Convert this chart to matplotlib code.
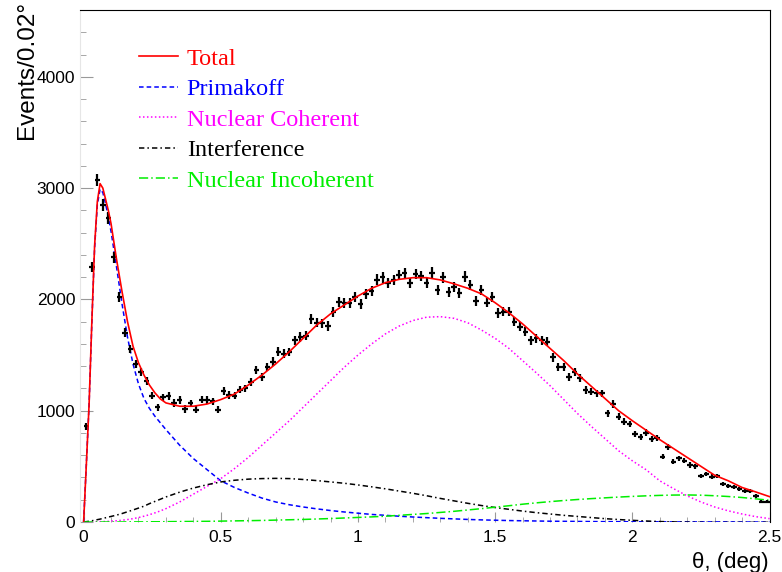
import numpy as np
import matplotlib
matplotlib.use("Agg")
import matplotlib.pyplot as plt
from matplotlib.ticker import MultipleLocator, FuncFormatter

# measured histogram, 0.02 deg bins from 0 to 2.5
bin_edges = np.linspace(0, 2.5, 126)
counts = [860, 2290, 3070, 2850, 2730, 2380, 2020, 1700, 1555, 1420,
          1345, 1270, 1135, 1030, 1120, 1130, 1070, 1095, 1015, 1065,
          1010, 1100, 1095, 1085, 1010, 1175, 1140, 1135, 1190, 1200,
          1255, 1365, 1305, 1395, 1440, 1530, 1512, 1528, 1635, 1662,
          1672, 1822, 1792, 1785, 1760, 1887, 1980, 1965, 1965, 2018,
          1958, 2048, 2075, 2177, 2198, 2145, 2174, 2219, 2234, 2145,
          2228, 2210, 2145, 2240, 2085, 2198, 2070, 2114, 2055, 2204,
          2129, 1989, 2085, 1972, 2025, 1875, 1890, 1890, 1800, 1755,
          1710, 1635, 1650, 1635, 1620, 1480, 1395, 1390, 1306, 1351,
          1291, 1186, 1171, 1156, 1156, 975, 1060, 946, 901, 880,
          791, 767, 803, 743, 752, 587, 671, 542, 572, 551,
          512, 503, 413, 431, 407, 413, 341, 323, 312, 294,
          281, 281, 234, 182, 182]

# fit components sampled in theta (deg)
theta = [0.00, 0.01, 0.02, 0.03, 0.04, 0.05, 0.06, 0.07, 0.08, 0.09, 0.10,
         0.12, 0.14, 0.16, 0.18, 0.20, 0.22, 0.24, 0.26, 0.28, 0.30,
         0.35, 0.40, 0.45, 0.50, 0.55, 0.60, 0.65, 0.70, 0.75, 0.80,
         0.85, 0.90, 0.95, 1.00, 1.05, 1.10, 1.15, 1.20, 1.25, 1.30,
         1.35, 1.40, 1.45, 1.50, 1.55, 1.60, 1.65, 1.70, 1.75, 1.80,
         1.85, 1.90, 1.95, 2.00, 2.05, 2.10, 2.15, 2.20, 2.25, 2.30,
         2.35, 2.40, 2.45, 2.50]
total = [0, 520, 1060, 1800, 2480, 2880, 3040, 3000, 2900, 2800, 2680,
         2360, 2070, 1800, 1580, 1430, 1320, 1230, 1160, 1105, 1070,
         1040, 1040, 1060, 1100, 1150, 1230, 1320, 1420, 1530, 1650,
         1770, 1870, 1950, 2030, 2100, 2150, 2180, 2195, 2195, 2175,
         2140, 2100, 2050, 1970, 1880, 1780, 1670, 1560, 1450, 1330,
         1220, 1110, 1000, 910, 825, 740, 660, 580, 500, 420,
         370, 310, 270, 228]
primakoff = [0, 520, 1060, 1790, 2460, 2850, 2990, 2960, 2860, 2740, 2610,
             2290, 1960, 1660, 1420, 1240, 1110, 1020, 950, 890, 830,
             690, 570, 470, 370, 310, 260, 215, 180, 155, 135,
             118, 103, 90, 79, 68, 60, 52, 45, 39, 33,
             28, 23, 19, 16, 13, 11, 9, 7, 6, 5,
             4, 3, 3, 2, 2, 2, 1, 1, 1, 1,
             1, 0, 0, 0]
coherent = [0, 0, 0, 1, 1, 2, 3, 4, 5, 6, 8,
            11, 16, 22, 30, 40, 52, 66, 82, 100, 120,
            180, 250, 320, 390, 480, 580, 690, 800, 910, 1030,
            1150, 1270, 1390, 1500, 1600, 1690, 1760, 1810, 1840, 1845,
            1830, 1790, 1725, 1650, 1560, 1450, 1340, 1225, 1100, 975,
            860, 750, 640, 550, 470, 370, 300, 235, 180, 135,
            100, 72, 48, 30]
interference = [0, 3, 7, 11, 16, 21, 26, 32, 38, 44, 50,
                62, 76, 92, 108, 125, 142, 165, 185, 205, 225,
                268, 305, 335, 360, 375, 385, 390, 392, 390, 382,
                372, 360, 348, 333, 316, 298, 278, 258, 236, 212,
                190, 168, 148, 130, 114, 98, 84, 72, 60, 50,
                40, 30, 22, 15, 9, 4, 1, -2, -3, -4,
                -4, -4, -3, -3]
incoherent = [0, 0, 0, 0, 0, 0, 0, 0, 0, 0, 0,
              0, 0, 1, 1, 1, 1, 2, 2, 2, 3,
              4, 5, 6, 8, 10, 12, 14, 17, 20, 23,
              27, 31, 36, 41, 46, 52, 60, 68, 76, 86,
              96, 108, 120, 133, 146, 160, 172, 183, 193, 202,
              210, 217, 224, 230, 235, 239, 242, 243, 241, 236,
              229, 220, 208, 195]

centers = 0.5 * (bin_edges[1:] + bin_edges[:-1])
counts = np.array(counts, dtype=float)

W, H = 782, 572
fig = plt.figure(figsize=(W / 100, H / 100), dpi=100)
ax = fig.add_axes([79.5 / W, 50 / H, 690 / W, 512 / H])

ax.errorbar(centers, counts, xerr=0.01, yerr=np.sqrt(counts), fmt="none",
            ecolor="black", elinewidth=1.6, capsize=0, zorder=3)

lw = 1.1
ax.plot(theta, total, color="#ff0000", lw=1.2, label="Total", zorder=4)
ax.plot(theta, primakoff, color="#0000ff", lw=lw, dashes=(3, 2),
        label="Primakoff")
ax.plot(theta, coherent, color="#ff00ff", lw=lw, dashes=(1, 1.6),
        label="Nuclear Coherent")
ax.plot(theta, interference, color="black", lw=lw, dashes=(3.5, 2, 1, 2),
        label="Interference")
ax.plot(theta, incoherent, color="#00ee00", lw=lw, dashes=(6, 2, 1, 2),
        label="Nuclear Incoherent")

ax.set_xlim(-0.015, 2.5)
ax.set_ylim(0, 4600)

# ROOT-like frame
ax.spines["top"].set_color("black")
ax.spines["right"].set_color("black")
ax.spines["left"].set_color("#e6e6e6")
ax.spines["bottom"].set_visible(False)

ax.xaxis.set_major_locator(MultipleLocator(0.5))
ax.xaxis.set_minor_locator(MultipleLocator(0.1))
ax.yaxis.set_major_locator(MultipleLocator(1000))
ax.yaxis.set_minor_locator(MultipleLocator(200))
ax.xaxis.set_major_formatter(FuncFormatter(lambda v, p: "%g" % v))
ax.tick_params(which="both", direction="in", color="#999999",
               labelsize=12.5, top=False, right=False)
ax.tick_params(axis="x", which="major", length=7.5, pad=6)
ax.tick_params(axis="x", which="minor", length=3.5)
ax.tick_params(axis="y", which="major", length=9, pad=3)
ax.tick_params(axis="y", which="minor", length=4.5)
for lab in ax.get_xticklabels() + ax.get_yticklabels():
    lab.set_family("Liberation Sans")

fig.text(27 / W, 1 - 1 / H, "Events/0.02\u00b0", rotation=90, ha="center",
         va="top", fontsize=17.5, family="Liberation Sans")
fig.text(769 / W, 1 - 568 / H, "\u03b8, (deg)", ha="right", va="baseline",
         fontsize=16, family="Liberation Sans")

leg = ax.legend(loc="upper left", bbox_to_anchor=(0.086, 0.926),
                frameon=False, borderpad=0, borderaxespad=0,
                handlelength=1.6, handletextpad=0.37, labelspacing=0.35,
                labelcolor="linecolor",
                prop={"family": "Liberation Serif", "size": 17.5})
for t in leg.get_texts():
    if t.get_text() == "Interference":
        t.set_color("black")

fig.savefig("out.png", dpi=100)
